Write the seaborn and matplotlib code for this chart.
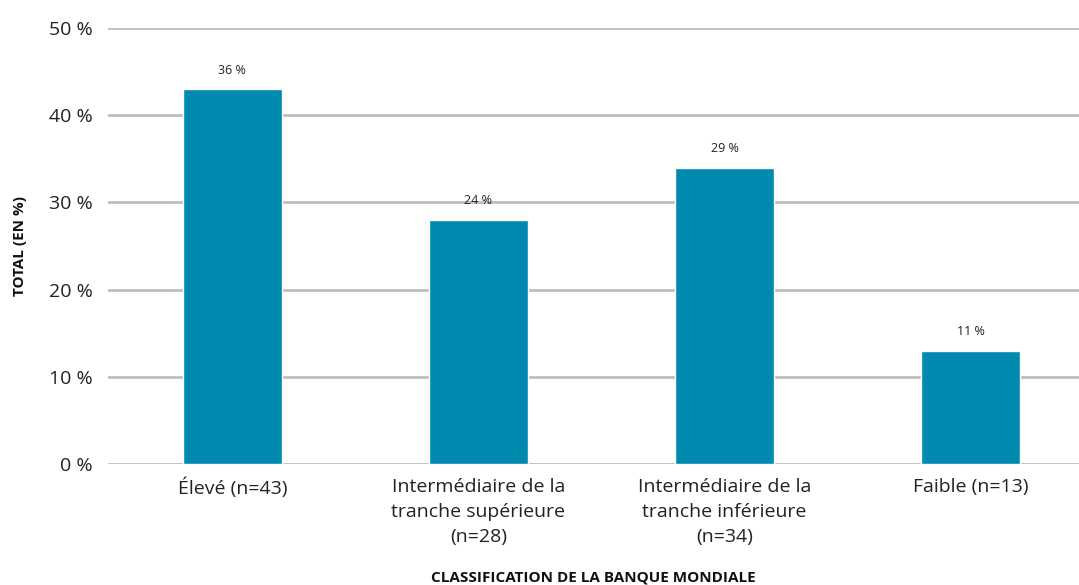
import numpy as np
import pandas as pd
import seaborn as sns
import matplotlib.pyplot as plt

# data
Categories = ['Élevé (n=43)',
              'Intermédiaire de la\ntranche supérieure\n(n=28)',
              'Intermédiaire de la\ntranche inférieure\n(n=34)',
              'Faible (n=13)']
Heights = [43, 28, 34, 13]
BarLabels = ['36 %', '24 %', '29 %', '11 %']
yTicks = [0, 10, 20, 30, 40, 50]

sns.set_theme(style='white')
plt.rcParams['font.family'] = ['Open Sans', 'DejaVu Sans']

df = pd.DataFrame({'Cat': Categories, 'Val': Heights})

fig = plt.figure(figsize=(10.79, 5.85), dpi=100)
ax = fig.add_axes([0.1001, 0.2068, 0.8999, 0.7453])

sns.barplot(data=df, x='Cat', y='Val', color='#008AB0', saturation=1,
            width=0.40, ax=ax, zorder=3)

for spine in ax.spines.values():
    spine.set_visible(False)

ax.set_ylim(0, 50)
ax.set_xlim(-0.505, 3.44)
ax.set_yticks(yTicks)
ax.set_yticklabels([str(t) + ' %' for t in yTicks], fontsize=14, color='#222222')
ax.yaxis.grid(True, color='#BFBFBF', linewidth=2, zorder=0)
ax.set_axisbelow(True)
ax.tick_params(axis='y', length=0, pad=11)
ax.tick_params(axis='x', length=0, pad=10)
ax.set_xticks(range(len(Categories)))
ax.set_xticklabels(Categories, fontsize=14, color='#222222', linespacing=1.5)

for i, (h, lab) in enumerate(zip(Heights, BarLabels)):
    ax.annotate(lab, (i, h), xytext=(0, 9), textcoords='offset points',
                ha='center', va='bottom', fontsize=9, color='#222222')

ax.set_xlabel('CLASSIFICATION DE LA BANQUE MONDIALE', fontsize=11,
              fontweight='bold', color='#111111', va='center')
ax.xaxis.set_label_coords(0.5, -0.261)
ax.set_ylabel('TOTAL (EN %)', fontsize=11, fontweight='bold', color='#111111')
ax.yaxis.set_label_coords(-0.083, 0.5)

plt.savefig('out.png', dpi=100)
plt.close()
